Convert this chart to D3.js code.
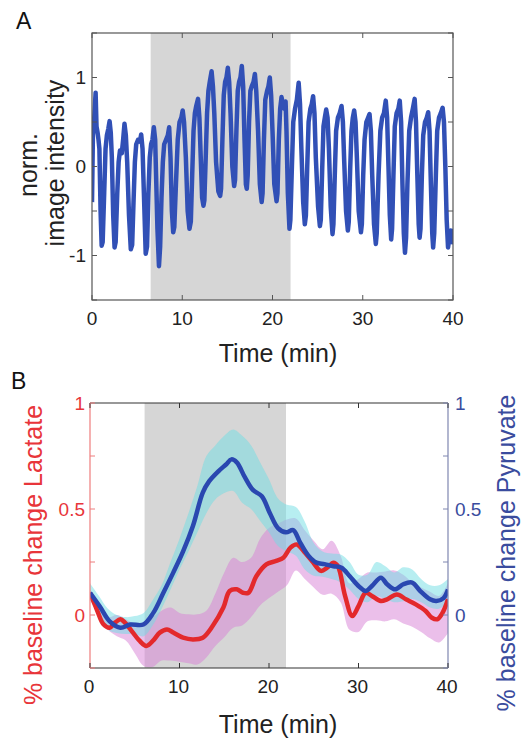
<!DOCTYPE html>
<html>
<head>
<meta charset="utf-8">
<script src="https://cdn.jsdelivr.net/npm/d3@7"></script>
<style>
  html, body { margin: 0; padding: 0; background: #fff; }
  svg { display: block; font-family: "Liberation Sans", Arial, Helvetica, sans-serif; }
</style>
</head>
<body>
<svg id="fig" width="527" height="738"></svg>
<script>
// ---------- Panel A: normalized image intensity ----------
const timeA = [0.00,0.10,0.25,0.40,0.50,0.62,0.72,0.82,0.95,1.07,1.18,
  1.35,1.50,1.65,1.80,1.95,2.08,2.20,2.35,2.50,2.62,
  2.80,2.95,3.10,3.30,3.45,3.60,3.75,3.90,4.10,4.30,4.45,
  4.60,4.75,4.90,5.10,5.30,5.45,5.60,5.75,5.95,6.10,
  6.25,6.40,6.55,6.70,6.85,7.00,7.10,7.25,7.42,7.55,
  7.70,7.85,8.00,8.20,8.40,8.55,8.70,8.85,9.00,9.12,
  9.30,9.50,9.70,9.90,10.05,10.20,10.40,10.60,10.80,10.95,
  11.10,11.25,11.40,11.55,11.75,11.90,12.05,12.20,12.35,12.45,
  12.60,12.75,12.90,13.05,13.25,13.40,13.55,13.75,14.00,14.20,14.30,
  14.45,14.60,14.75,14.90,15.05,15.20,15.35,15.55,15.75,15.85,
  16.00,16.15,16.30,16.45,16.60,16.75,16.90,17.05,17.15,17.25,
  17.40,17.55,17.70,17.90,18.05,18.20,18.40,18.60,18.80,18.90,
  19.05,19.20,19.40,19.55,19.70,19.85,20.00,20.20,20.45,20.55,
  20.70,20.85,21.00,21.15,21.30,21.45,21.55,21.70,21.88,21.98,
  22.15,22.30,22.50,22.70,22.90,23.05,23.20,23.40,23.58,23.70,
  23.85,24.00,24.20,24.35,24.50,24.65,24.80,25.05,25.25,25.35,
  25.50,25.65,25.80,25.95,26.10,26.25,26.45,26.65,26.75,
  26.90,27.05,27.25,27.45,27.65,27.80,27.95,28.15,28.35,28.45,
  28.60,28.75,28.90,29.05,29.20,29.35,29.55,29.80,29.90,
  30.05,30.20,30.40,30.60,30.75,30.90,31.05,31.25,31.45,31.55,
  31.75,31.95,32.15,32.35,32.55,32.70,32.85,33.00,33.15,33.25,
  33.40,33.55,33.75,33.95,34.10,34.25,34.40,34.55,34.68,34.80,
  34.95,35.15,35.35,35.55,35.75,35.90,36.05,36.20,36.30,36.40,
  36.55,36.70,36.90,37.10,37.25,37.40,37.55,37.70,37.80,37.92,
  38.10,38.25,38.45,38.65,38.85,39.00,39.15,39.30,39.45,39.60,39.75,39.90,40.00];
const intensityA = [-0.40,0.35,0.55,0.83,0.45,0.38,0.30,0.20,-0.50,-0.89,-0.85,
  -0.30,0.20,0.35,0.42,0.51,0.38,0.10,-0.55,-0.91,-0.85,
  -0.30,0.05,0.18,0.15,0.30,0.48,0.35,0.05,-0.55,-0.93,-0.88,
  -0.40,0.05,0.25,0.30,0.28,0.36,0.20,-0.30,-0.98,-0.90,
  -0.30,0.10,0.25,0.30,0.44,0.30,-0.10,-0.70,-1.12,-0.90,
  -0.35,0.05,0.25,0.30,0.35,0.44,0.10,-0.50,-0.74,-0.68,
  -0.20,0.30,0.50,0.55,0.63,0.50,0.10,-0.50,-0.70,-0.62,
  -0.10,0.40,0.60,0.68,0.76,0.55,0.10,-0.35,-0.44,-0.38,
  0.10,0.60,0.85,0.95,1.07,0.90,0.60,0.05,-0.28,-0.33,-0.25,
  0.30,0.80,0.95,1.00,1.11,0.95,0.60,0.00,-0.22,-0.15,
  0.40,0.85,0.95,1.00,1.13,0.90,0.30,-0.20,-0.25,-0.10,
  0.50,0.85,0.90,0.95,1.04,0.85,0.40,-0.20,-0.40,-0.30,
  0.30,0.75,0.85,0.90,1.00,0.80,0.40,-0.20,-0.39,-0.30,
  0.30,0.65,0.78,0.70,0.65,0.73,0.40,-0.30,-0.70,-0.60,
  0.00,0.50,0.65,0.75,0.94,0.70,0.20,-0.40,-0.65,-0.55,
  0.00,0.50,0.65,0.70,0.79,0.60,0.10,-0.45,-0.67,-0.60,
  -0.05,0.45,0.55,0.64,0.55,0.20,-0.45,-0.76,-0.65,
  -0.10,0.40,0.55,0.60,0.68,0.50,0.05,-0.50,-0.72,-0.62,
  -0.05,0.40,0.55,0.63,0.50,0.10,-0.50,-0.74,-0.65,
  -0.10,0.30,0.50,0.55,0.59,0.40,-0.10,-0.65,-0.87,-0.75,
  -0.10,0.40,0.55,0.60,0.74,0.55,0.00,-0.55,-0.82,-0.70,
  -0.10,0.45,0.60,0.65,0.74,0.50,-0.20,-0.75,-0.97,-0.80,
  -0.20,0.40,0.55,0.65,0.76,0.50,-0.10,-0.65,-0.80,-0.70,
  -0.10,0.35,0.50,0.55,0.61,0.40,-0.20,-0.75,-0.91,-0.75,
  -0.10,0.40,0.55,0.60,0.66,0.50,0.00,-0.60,-0.91,-0.80,-0.72,-0.85,-0.70];

// stimulation window (min)
const stimA = [6.5, 22.0];
const stimB = [6.1, 21.9];

const timeTicks = [0, 10, 20, 30, 40];
const ticksA = [-1.5, -1, -0.5, 0, 0.5, 1, 1.5];
const labelsA = {"-1": "-1", "0": "0", "1": "1"};

// ---------- Panel B: lactate / pyruvate ----------
const lactateT = [0,0.75,1.5,2.2,2.8,3.4,3.9,4.8,5.5,6.3,7.07,7.8,8.6,9.3,10.4,11.5,12.6,13.7,14.9,15.6,16.4,17.1,17.7,18.6,19.7,20.8,21.6,22.4,23.1,23.9,24.8,25.8,26.5,27.2,27.7,28.5,29.3,30.0,30.8,31.5,32.5,33.2,34.3,35.3,36.4,37.5,38.2,38.8,39.4,40];
const lactate = [0.105,0.027,-0.044,-0.06,-0.036,-0.02,-0.036,-0.083,-0.12,-0.146,-0.12,-0.083,-0.068,-0.083,-0.107,-0.115,-0.107,-0.052,0.035,0.113,0.121,0.105,0.105,0.184,0.239,0.255,0.27,0.318,0.333,0.30,0.255,0.208,0.223,0.247,0.23,0.09,-0.005,0.042,0.105,0.09,0.066,0.074,0.097,0.074,0.05,0.019,-0.013,-0.02,0.011,0.074];

const pyruvateT = [0,1.1,2.2,3.4,4.5,5.96,7.07,8.2,9.3,10.4,11.5,12.6,13.3,14.4,15.2,15.8,16.4,17.3,18.2,19.2,20.1,21.0,21.9,22.7,23.5,24.4,25.3,26.2,27.2,28.1,29.0,30.0,30.8,31.5,32.5,33.2,34.1,35.0,36.0,36.9,38.0,38.7,39.5,40];
const pyruvate = [0.105,0.04,-0.03,-0.06,-0.045,-0.045,0.01,0.105,0.20,0.30,0.42,0.577,0.63,0.68,0.71,0.734,0.72,0.65,0.59,0.56,0.48,0.41,0.39,0.40,0.34,0.28,0.247,0.24,0.23,0.223,0.184,0.137,0.113,0.137,0.176,0.145,0.121,0.145,0.153,0.113,0.074,0.066,0.08,0.12];

// error bands, one value per minute 0..40
const bandT = d3.range(0, 41);
const lactateUpper = [0.12,0.05,-0.01,0.00,-0.02,-0.04,-0.04,-0.01,0.02,0.035,0.01,0.003,0.003,0.02,0.10,0.20,0.27,0.25,0.27,0.36,0.41,0.43,0.45,0.455,0.40,0.35,0.31,0.35,0.28,0.15,0.17,0.20,0.20,0.205,0.21,0.19,0.155,0.13,0.11,0.09,0.15];
const lactateLower = [0.08,0.00,-0.07,-0.10,-0.12,-0.18,-0.24,-0.245,-0.215,-0.215,-0.22,-0.228,-0.233,-0.20,-0.146,-0.105,-0.06,-0.05,-0.01,0.045,0.08,0.11,0.14,0.21,0.17,0.13,0.095,0.10,0.06,-0.07,-0.08,-0.03,-0.025,-0.03,-0.02,-0.04,-0.055,-0.08,-0.11,-0.13,-0.085];
const pyruvateUpper = [0.15,0.09,0.03,0.00,-0.01,-0.005,0.01,0.07,0.14,0.25,0.36,0.48,0.61,0.75,0.80,0.845,0.875,0.845,0.80,0.72,0.64,0.55,0.52,0.51,0.44,0.34,0.30,0.29,0.285,0.25,0.19,0.19,0.25,0.23,0.20,0.225,0.215,0.17,0.14,0.14,0.17];
const pyruvateLower = [0.07,0.00,-0.07,-0.085,-0.09,-0.09,-0.10,-0.05,0.03,0.12,0.215,0.30,0.39,0.48,0.545,0.575,0.585,0.53,0.50,0.445,0.39,0.325,0.30,0.28,0.215,0.185,0.18,0.17,0.155,0.12,0.075,0.06,0.09,0.075,0.06,0.065,0.075,0.06,0.035,0.03,0.06];

const ticksB = [-0.25, 0, 0.25, 0.5, 0.75, 1];
const labelsB = {"0": "0", "0.5": "0.5", "1": "1"};

// ---------- drawing ----------
const svg = d3.select("#fig");
const RED = "#e8353a", BLUE_TXT = "#3a4c9e";
const TICK = 5;

// Panel A
{
  const L = 92, R = 453, T = 33, B = 300;
  const x = d3.scaleLinear().domain([0, 40]).range([L, R]);
  const y = d3.scaleLinear().domain([-1.5, 1.5]).range([B, T]);
  const g = svg.append("g");

  g.append("clipPath").attr("id", "clipA").append("rect")
    .attr("x", L).attr("y", T).attr("width", R - L).attr("height", B - T);

  g.append("rect").attr("x", x(stimA[0])).attr("y", T)
    .attr("width", x(stimA[1]) - x(stimA[0])).attr("height", B - T)
    .attr("fill", "#d6d6d6");

  const pts = timeA.map((t, i) => [t, intensityA[i]]);
  g.append("path").datum(pts)
    .attr("clip-path", "url(#clipA)")
    .attr("fill", "none").attr("stroke", "#3150b6").attr("stroke-width", 4.5)
    .attr("stroke-linejoin", "round")
    .attr("d", d3.line().x(d => x(d[0])).y(d => y(d[1])));

  // axes (inward ticks on all four sides)
  const ax = g.append("g").attr("stroke", "#555").attr("fill", "none");
  ax.append("rect").attr("x", L).attr("y", T).attr("width", R - L).attr("height", B - T).attr("stroke-width", 1.2);
  timeTicks.forEach(v => {
    ax.append("line").attr("x1", x(v)).attr("x2", x(v)).attr("y1", B).attr("y2", B - TICK);
    ax.append("line").attr("x1", x(v)).attr("x2", x(v)).attr("y1", T).attr("y2", T + TICK);
  });
  ticksA.forEach(v => {
    ax.append("line").attr("x1", L).attr("x2", L + TICK).attr("y1", y(v)).attr("y2", y(v));
    ax.append("line").attr("x1", R).attr("x2", R - TICK).attr("y1", y(v)).attr("y2", y(v));
  });

  g.selectAll(".xl").data(timeTicks).join("text")
    .attr("x", d => x(d)).attr("y", 325).attr("text-anchor", "middle")
    .attr("font-size", 19).attr("fill", "#222").text(d => d);
  g.selectAll(".yl").data(ticksA.filter(v => labelsA[String(v)] !== undefined)).join("text")
    .attr("x", 86).attr("y", d => y(d)).attr("dy", "0.35em").attr("text-anchor", "end")
    .attr("font-size", 19).attr("fill", "#222").text(d => labelsA[String(d)]);

  g.append("text").attr("x", 278).attr("y", 362).attr("text-anchor", "middle")
    .attr("font-size", 25).attr("fill", "#222").text("Time (min)");
  g.append("text").attr("transform", "translate(37,165) rotate(-90)").attr("text-anchor", "middle")
    .attr("font-size", 25).attr("fill", "#222").text("norm.");
  g.append("text").attr("transform", "translate(64,163) rotate(-90)").attr("text-anchor", "middle")
    .attr("font-size", 25).attr("fill", "#222").text("image intensity");
  g.append("text").attr("x", 16).attr("y", 29).attr("font-size", 23).attr("fill", "#111").text("A");
}

// Panel B
{
  const L = 90, R = 448, T = 403, B = 668;
  const x = d3.scaleLinear().domain([0, 40]).range([L, R]);
  const yL = d3.scaleLinear().domain([-0.25, 1]).range([B, T]);
  const yR = d3.scaleLinear().domain([-0.25, 1]).range([B, T]);
  const g = svg.append("g");

  g.append("clipPath").attr("id", "clipB").append("rect")
    .attr("x", L).attr("y", T).attr("width", R - L).attr("height", B - T);

  g.append("rect").attr("x", x(stimB[0])).attr("y", T)
    .attr("width", x(stimB[1]) - x(stimB[0])).attr("height", B - T)
    .attr("fill", "#d6d6d6");

  const plot = g.append("g").attr("clip-path", "url(#clipB)");
  const area = (yS, lo, hi) => d3.area().curve(d3.curveCatmullRom)
    .x((d, i) => x(bandT[i])).y0((d, i) => yS(lo[i])).y1((d, i) => yS(hi[i]));

  plot.append("path").datum(bandT).attr("fill", "#d77fd6").attr("fill-opacity", 0.5)
    .attr("d", area(yL, lactateLower, lactateUpper));
  plot.append("path").datum(bandT).attr("fill", "#6fdde3").attr("fill-opacity", 0.5)
    .attr("d", area(yR, pyruvateLower, pyruvateUpper));

  const line = yS => d3.line().curve(d3.curveCatmullRom).x(d => x(d[0])).y(d => yS(d[1]));
  plot.append("path").datum(lactateT.map((t, i) => [t, lactate[i]]))
    .attr("fill", "none").attr("stroke", "#e3292c").attr("stroke-width", 4.5)
    .attr("stroke-linejoin", "round").attr("d", line(yL));
  plot.append("path").datum(pyruvateT.map((t, i) => [t, pyruvate[i]]))
    .attr("fill", "none").attr("stroke", "#2a47b0").attr("stroke-width", 4.5)
    .attr("stroke-linejoin", "round").attr("d", line(yR));

  // frame
  g.append("line").attr("x1", L).attr("x2", R).attr("y1", T).attr("y2", T).attr("stroke", "#333").attr("stroke-width", 1.2);
  g.append("line").attr("x1", L).attr("x2", R).attr("y1", B).attr("y2", B).attr("stroke", "#333").attr("stroke-width", 1.2);
  g.append("line").attr("x1", L).attr("x2", L).attr("y1", T).attr("y2", B).attr("stroke", "#ee7c7c").attr("stroke-width", 1.2);
  g.append("line").attr("x1", R).attr("x2", R).attr("y1", T).attr("y2", B).attr("stroke", "#7f86b0").attr("stroke-width", 1.2);

  timeTicks.forEach(v => {
    g.append("line").attr("x1", x(v)).attr("x2", x(v)).attr("y1", B).attr("y2", B - TICK).attr("stroke", "#333");
    g.append("line").attr("x1", x(v)).attr("x2", x(v)).attr("y1", T).attr("y2", T + TICK).attr("stroke", "#333");
  });
  ticksB.forEach(v => {
    g.append("line").attr("x1", L).attr("x2", L + TICK).attr("y1", yL(v)).attr("y2", yL(v)).attr("stroke", "#ee7c7c");
    g.append("line").attr("x1", R).attr("x2", R - TICK).attr("y1", yR(v)).attr("y2", yR(v)).attr("stroke", "#7f86b0");
  });

  g.selectAll(".xl").data(timeTicks).join("text")
    .attr("x", d => x(d) - 1).attr("y", 693).attr("text-anchor", "middle")
    .attr("font-size", 19).attr("fill", "#222").text(d => d);
  const lab = ticksB.filter(v => labelsB[String(v)] !== undefined);
  g.selectAll(".yl").data(lab).join("text")
    .attr("x", 85).attr("y", d => yL(d)).attr("dy", "0.35em").attr("text-anchor", "end")
    .attr("font-size", 19).attr("fill", RED).text(d => labelsB[String(d)]);
  g.selectAll(".yr").data(lab).join("text")
    .attr("x", 455).attr("y", d => yR(d)).attr("dy", "0.35em").attr("text-anchor", "start")
    .attr("font-size", 19).attr("fill", BLUE_TXT).text(d => labelsB[String(d)]);

  g.append("text").attr("x", 278).attr("y", 733).attr("text-anchor", "middle")
    .attr("font-size", 25).attr("fill", "#222").text("Time (min)");
  g.append("text").attr("transform", "translate(42,555) rotate(-90)").attr("text-anchor", "middle")
    .attr("font-size", 25).attr("fill", RED).text("% baseline change Lactate");
  g.append("text").attr("transform", "translate(515,553) rotate(-90)").attr("text-anchor", "middle")
    .attr("font-size", 25).attr("fill", BLUE_TXT).text("% baseline change Pyruvate");
  g.append("text").attr("x", 11).attr("y", 389).attr("font-size", 23).attr("fill", "#111").text("B");
}
</script>
</body>
</html>
